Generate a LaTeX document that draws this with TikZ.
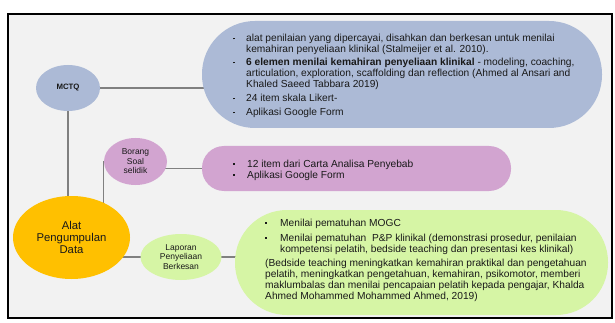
\documentclass[tikz,border=0pt]{standalone}
\usepackage{fontspec}
\setmainfont{Liberation Sans}
\usetikzlibrary{shapes.geometric}
\definecolor{bluefill}{RGB}{172,186,214}
\definecolor{pinkfill}{RGB}{210,164,208}
\definecolor{greenfill}{RGB}{214,245,165}
\definecolor{goldfill}{RGB}{255,192,0}
\definecolor{bgfill}{RGB}{242,242,242}
\definecolor{conncol}{RGB}{128,128,128}
\definecolor{txtcol}{RGB}{25,25,25}
\newcommand{\bx}{\raisebox{2.6pt}{\rule{1.6pt}{1.6pt}}}
\pgfdeclarelayer{bglayer}
\pgfdeclarelayer{connlayer}
\pgfsetlayers{bglayer,connlayer,main}
\tikzset{
  oval/.style={ellipse, inner sep=0pt, align=center, text=txtcol},
  stadium/.style={rectangle, inner sep=0pt},
  bodytext/.style={inner sep=0pt, anchor=north west, text=txtcol, font=\fontsize{10.2}{11}\selectfont},
  conn/.style={draw=conncol, line width=1.3pt}
}
\begin{document}
\begin{tikzpicture}[x=1pt,y=-1pt]
\useasboundingbox (0,0) rectangle (615,323);
\begin{pgfonlayer}{bglayer}
  \fill[white] (0,0) rectangle (615,323);
  \draw[line width=2pt, fill=bgfill] (8,14) rectangle (612,318);
\end{pgfonlayer}
% boxes
\node[stadium, fill=bluefill, minimum width=400pt, minimum height=107pt, rounded corners=53pt] (B) at (402,74.5) {};
\node[stadium, fill=pinkfill, minimum width=309pt, minimum height=45pt, rounded corners=22pt] (P) at (356.5,168.5) {};
\node[stadium, fill=greenfill, minimum width=373pt, minimum height=105pt, rounded corners=52pt] (G) at (421.5,262.5) {};
% ellipses
\node[oval, fill=bluefill, minimum width=64pt, minimum height=46pt, font=\fontsize{7.8}{9}\selectfont\bfseries] (M) at (68,88) {MCTQ};
\node[oval, fill=pinkfill, minimum width=63pt, minimum height=47pt, font=\fontsize{8.5}{9.5}\selectfont] (Bo) at (135.5,161.5) {Borang\\Soal\\selidik};
\node[oval, fill=goldfill, minimum width=117pt, minimum height=83pt, font=\fontsize{11.3}{12}\selectfont] (A) at (71.5,237.5) {Alat\\Pengumpulan\\Data};
\node[oval, fill=greenfill, minimum width=81pt, minimum height=46pt, font=\fontsize{8.5}{9.3}\selectfont] (L) at (181,257) {Laporan\\Penyeliaan\\Berkesan};
% texts
\node[bodytext] (Bt) at (233,34) {%
\begin{tabular}{@{}p{13pt}@{}l@{}}
\bx & alat penilaian yang dipercayai, disahkan dan berkesan untuk menilai\\
 & kemahiran penyeliaan klinikal (Stalmeijer et al. 2010).\\[2pt]
\bx & \textbf{6 elemen menilai kemahiran penyeliaan klinikal} - modeling, coaching,\\
 & articulation, exploration, scaffolding dan reflection (Ahmed al Ansari and\\
 & Khaled Saeed Tabbara 2019)\\[3pt]
\bx & 24 item skala Likert-\\[3pt]
\bx & Aplikasi Google Form
\end{tabular}};
\node[bodytext] (Pt) at (233,159.5) {%
\begin{tabular}{@{}p{14pt}@{}l@{}}
\bx & 12 item dari Carta Analisa Penyebab\\
\bx & Aplikasi Google Form
\end{tabular}};
\node[bodytext] (Gt) at (265,218.5) {%
\begin{tabular}{@{}p{15pt}@{}l@{}}
\bx & Menilai pematuhan MOGC\\[4pt]
\bx & Menilai pematuhan \ P\&P klinikal (demonstrasi prosedur, penilaian\\
 & kompetensi pelatih, bedside teaching dan presentasi kes klinikal)\\[3pt]
\multicolumn{2}{@{}l@{}}{(Bedside teaching meningkatkan kemahiran praktikal dan pengetahuan}\\
\multicolumn{2}{@{}l@{}}{pelatih, meningkatkan pengetahuan, kemahiran, psikomotor, memberi}\\
\multicolumn{2}{@{}l@{}}{maklumbalas dan menilai pencapaian pelatih kepada pengajar, Khalda}\\
\multicolumn{2}{@{}l@{}}{Ahmed Mohammed Mohammed Ahmed, 2019)}
\end{tabular}};
% connectors
\begin{pgfonlayer}{connlayer}
  \draw[conn] (M.center) -- ([xshift=8pt]M.center -| B.west);
  \draw[conn] (M.center) -- (M.center |- A.center);
  \draw[conn] (Bo.west) -- (Bo.west |- A.center);
  \draw[conn] (Bo.center |- P.center) -- (P.center);
  \draw[conn] (L.center -| A.center) -- (L.center);
  \draw[conn] (L.center) -- (L.center -| G.center);
\end{pgfonlayer}
\end{tikzpicture}
\end{document}
